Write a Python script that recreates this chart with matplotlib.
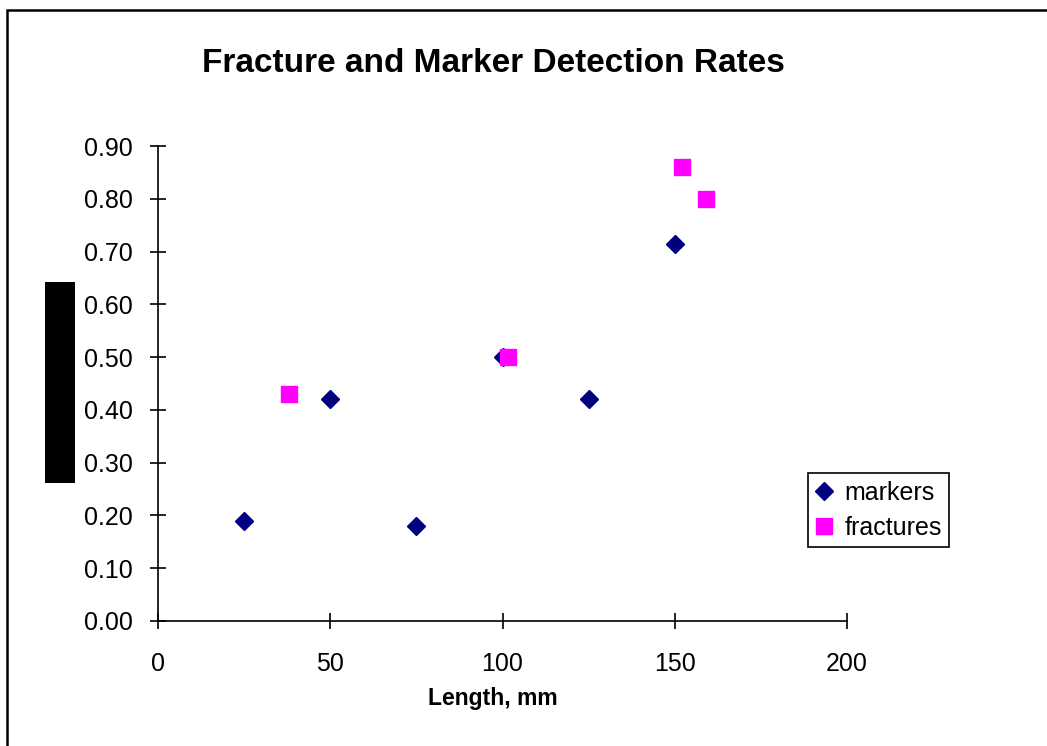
import matplotlib
matplotlib.use('Agg')
import matplotlib.pyplot as plt
from matplotlib.patches import Rectangle

plt.rcParams['font.family'] = ['Liberation Sans', 'DejaVu Sans']

# data
marker_len = [25, 50, 75, 100, 125, 150]
marker_rate = [0.19, 0.42, 0.18, 0.50, 0.42, 0.715]
fracture_len = [38, 101.5, 152, 159]
fracture_rate = [0.43, 0.50, 0.86, 0.80]

fig = plt.figure(figsize=(10.47, 7.46), dpi=100)
ax = fig.add_axes([158 / 1047, 1 - 621 / 746, (847 - 158) / 1047, (621 - 146) / 746])

ax.plot(marker_len, marker_rate, linestyle='none', marker='D', markersize=9,
        color='#000080', label='markers', clip_on=False, zorder=3)
ax.plot(fracture_len, fracture_rate, linestyle='none', marker='s', markersize=11.5,
        color='#FF00FF', label='fractures', clip_on=False, zorder=4)

ax.set_xlim(0, 200)
ax.set_ylim(0, 0.9)
ax.set_xticks([0, 50, 100, 150, 200])
ax.set_yticks([i / 10 for i in range(10)])
ax.set_yticklabels([f'{i / 10:.2f}' for i in range(10)])
ax.spines['top'].set_visible(False)
ax.spines['right'].set_visible(False)
for s in ('left', 'bottom'):
    ax.spines[s].set_linewidth(1.2)
ax.tick_params(direction='inout', length=12, width=1.2, labelsize=18)
ax.tick_params(axis='y', pad=12)
ax.tick_params(axis='x', pad=16)

fig.text(493 / 1047, 1 - 63 / 746, 'Fracture and Marker Detection Rates',
         ha='center', va='center', fontsize=24, fontweight='bold')
fig.text(493 / 1047, 1 - 699 / 746, 'Length, mm',
         ha='center', va='center', fontsize=16.5, fontweight='bold')

# redacted y label block
fig.add_artist(Rectangle((45 / 1047, 1 - 483 / 746), 30 / 1047, 201 / 746,
                         transform=fig.transFigure, facecolor='black', edgecolor='none'))
# chart border (runs off the right and bottom edges)
fig.add_artist(Rectangle((7 / 1047, -0.05), 1.1, 1.05 - 10 / 746,
                         transform=fig.transFigure, facecolor='none',
                         edgecolor='black', linewidth=1.8, clip_on=False))

leg = fig.legend(loc='upper left', bbox_to_anchor=(808 / 1047, 1 - 473 / 746),
                 fontsize=18, frameon=True, fancybox=False, edgecolor='black',
                 framealpha=1, handlelength=0.7, handletextpad=0.45,
                 borderpad=0.3, labelspacing=0.45, borderaxespad=0)
leg.get_frame().set_linewidth(1.2)

fig.savefig('out.png', dpi=100)
